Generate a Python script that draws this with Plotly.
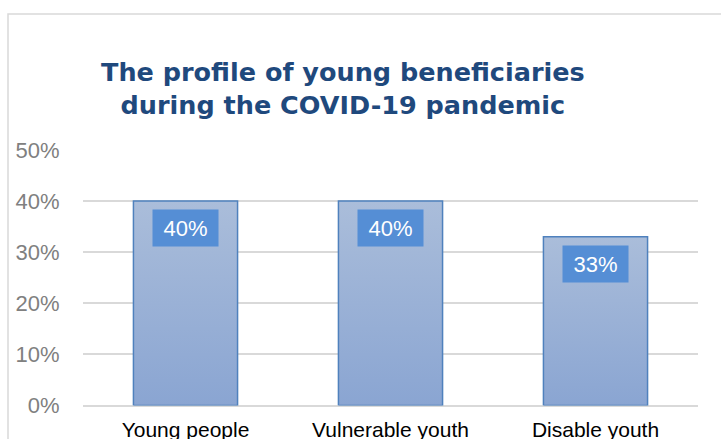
import plotly.graph_objects as go

# Chart data
categories = ["Young people", "Vulnerable youth", "Disable youth"]
shares = [0.40, 0.40, 0.33]
y_ticks = [0.0, 0.1, 0.2, 0.3, 0.4, 0.5]

title_text = "The profile of young beneficiaries<br>during the COVID-19 pandemic"

W, H = 721, 439
FONT = "Liberation Sans, Arial, sans-serif"
TITLE_FONT = "DejaVu Sans, Liberation Sans, Arial, sans-serif"
BAR_HALF = 0.254
TOP_COLOR = "#AABDDA"
BOTTOM_COLOR = "#8AA5D2"
EDGE_COLOR = "#4F81BD"
LABEL_BG = "#558ED5"
GRID = "#D9D9D9"

fig = go.Figure()

# Each bar is a filled polygon so it can carry a vertical gradient
for i, (cat, v) in enumerate(zip(categories, shares)):
    xs = [i - BAR_HALF, i + BAR_HALF, i + BAR_HALF, i - BAR_HALF, i - BAR_HALF]
    ys = [0, 0, v, v, 0]
    fig.add_trace(go.Scatter(
        x=xs, y=ys, mode="lines", fill="toself",
        line=dict(color=EDGE_COLOR, width=1.5),
        fillgradient=dict(type="vertical",
                          colorscale=[[0, BOTTOM_COLOR], [1, TOP_COLOR]]),
        hoverinfo="skip", showlegend=False,
    ))
    # Value label inside the top of the bar
    fig.add_annotation(
        x=i, y=v, xref="x", yref="y",
        text=f"{v:.0%}", showarrow=False,
        yanchor="top", yshift=-8,
        width=65, height=36, borderpad=0,
        bgcolor=LABEL_BG,
        font=dict(family=FONT, size=22, color="white"),
    )

# Title
fig.add_annotation(
    x=343 / W, y=1 - 55 / H, xref="paper", yref="paper",
    xanchor="center", yanchor="top", showarrow=False,
    text=f"<b>{title_text}</b>", align="center",
    font=dict(family=TITLE_FONT, size=25.5, color="#1F497D"),
)

# Outer chart frame (partially outside the visible page)
fig.add_shape(type="rect", xref="paper", yref="paper",
              x0=8 / W, x1=1.2, y0=-0.2, y1=1 - 14 / H,
              line=dict(color=GRID, width=1.5), fillcolor="rgba(0,0,0,0)",
              layer="below")

fig.update_layout(
    width=W, height=H,
    margin=dict(l=0, r=0, t=0, b=0),
    paper_bgcolor="white", plot_bgcolor="white",
    showlegend=False,
    xaxis=dict(
        domain=[83 / W, 698 / W],
        range=[-0.5, 2.5],
        tickmode="array", tickvals=list(range(len(categories))),
        ticktext=categories,
        showgrid=False, zeroline=False, showline=False,
        ticks="outside", ticklen=5, tickcolor="rgba(0,0,0,0)",
        tickfont=dict(family=FONT, size=21, color="black"),
        automargin=False, fixedrange=True,
    ),
    yaxis=dict(
        domain=[(H - 405.5) / H, (H - 150) / H],
        range=[0, 0.5],
        tickmode="array", tickvals=y_ticks, tickformat=".0%",
        showgrid=True, gridcolor=GRID, gridwidth=1.5,
        zeroline=True, zerolinecolor=GRID, zerolinewidth=1.5,
        showline=False,
        ticks="outside", ticklen=18, tickcolor="rgba(0,0,0,0)",
        tickfont=dict(family=FONT, size=22, color="#808080"),
        automargin=False, fixedrange=True,
    ),
)

fig.write_html("out.html")
